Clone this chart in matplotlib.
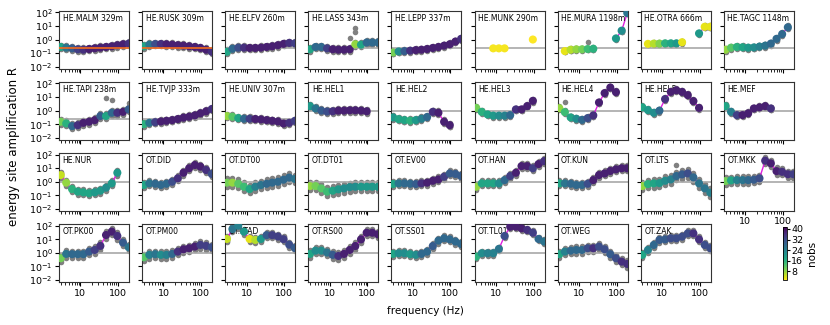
import numpy as np
import matplotlib
matplotlib.use("Agg")
import matplotlib.pyplot as plt
from matplotlib.colors import Normalize
from matplotlib.ticker import NullLocator, FixedLocator, NullFormatter

N = np.nan

freq = [3, 4.2, 6, 8.5, 12, 17, 24, 34, 48, 68, 96, 136, 192]

names = ["HE.MALM 329m", "HE.RUSK 309m", "HE.ELFV 260m", "HE.LASS 343m", "HE.LEPP 337m",
         "HE.MUNK 290m", "HE.MURA 1198m", "HE.OTRA 666m", "HE.TAGC 1148m",
         "HE.TAPI 238m", "HE.TVJP 333m", "HE.UNIV 307m", "HE.HEL1", "HE.HEL2", "HE.HEL3",
         "HE.HEL4", "HE.HEL5", "HE.MEF",
         "HE.NUR", "OT.DID", "OT.DT00", "OT.DT01", "OT.EV00", "OT.HAN", "OT.KUN", "OT.LTS", "OT.MKK",
         "OT.PK00", "OT.PM00", "OT.LTAD", "OT.RS00", "OT.SS01", "OT.TL01", "OT.WEG", "OT.ZAK"]

# reference level (grey line) per station
ref_level = [0.25] * 12 + [1.0] * 23
# stations with the orange constraint line
constrained = ["HE.MALM 329m", "HE.RUSK 309m"]

# log10 of mean amplification per frequency
log_r = [
    [-0.55, -0.6, -0.65, -0.72, -0.75, -0.7, -0.65, -0.6, -0.55, -0.5, -0.42, -0.35, -0.3],
    [-0.5, -0.38, -0.33, -0.33, -0.35, -0.38, -0.42, -0.45, -0.5, -0.55, -0.62, -0.75, -0.9],
    [-0.9, -0.68, -0.6, -0.6, -0.62, -0.62, -0.6, -0.55, -0.5, -0.42, -0.32, -0.25, -0.28],
    [-0.72, -0.55, -0.55, -0.65, -0.72, -0.75, -0.75, -0.72, -0.35, -0.38, -0.22, -0.22, -0.22],
    [-0.95, -0.88, -0.85, -0.82, -0.78, -0.75, -0.7, -0.62, -0.55, -0.45, -0.35, -0.15, 0.05],
    [N, N, N, -0.65, -0.65, -0.65, N, N, N, N, 0.0, N, N],
    [N, -0.85, -0.75, -0.72, -0.72, -0.7, -0.68, N, N, N, 0.08, 0.65, 1.95],
    [N, -0.32, -0.3, -0.3, -0.28, -0.28, -0.28, -0.2, N, N, 0.45, 0.94, 0.94],
    [-0.75, -0.6, -0.55, -0.57, -0.6, -0.58, -0.52, -0.45, -0.3, 0.05, 0.4, 0.9, N],
    [-0.82, -0.94, -1.14, -1.07, -0.9, -0.82, -0.7, -0.4, -0.4, -0.16, -0.16, -0.09, 0.09],
    [-1.0, -0.9, -0.85, -0.8, -0.75, -0.7, -0.62, -0.52, -0.45, -0.35, -0.2, -0.05, 0.12],
    [-0.4, -0.45, -0.55, -0.6, -0.6, -0.62, -0.65, -0.7, -0.75, -0.8, -0.95, -0.9, -0.75],
    [0.33, 0.16, 0.0, -0.07, -0.05, 0.0, 0.0, 0.02, 0.02, 0.0, -0.05, N, N],
    [-0.5, -0.63, -0.7, -0.74, -0.7, -0.6, -0.47, -0.09, -0.16, -0.82, -1.07, N, N],
    [0.2, -0.09, -0.28, -0.37, -0.37, -0.37, -0.33, 0.09, 0.09, 0.33, 0.72, N, N],
    [0.18, -0.11, -0.5, -0.6, -0.68, -0.55, -0.35, 0.6, 1.29, 1.7, 1.36, N, N],
    [0.24, 0.04, -0.16, 0.0, 0.85, 1.38, 1.5, 1.38, 1.14, 0.7, 0.2, N, N],
    [0.33, -0.09, -0.33, -0.33, -0.2, 0.16, 0.24, 0.33, 0.16, N, N, N, N],
    [0.49, -0.07, -0.54, -0.73, -0.78, -0.85, -0.78, -0.66, -0.44, -0.12, 0.66, N, N],
    [-0.24, -0.12, -0.15, -0.24, -0.15, 0.0, 0.25, 0.66, 0.99, 1.23, 1.11, 0.86, 0.57],
    [-0.07, -0.07, -0.15, -0.37, -0.54, -0.37, -0.24, -0.15, -0.07, 0.0, 0.15, 0.3, 0.2],
    [-0.32, -0.32, -0.49, -0.73, -0.66, -0.56, -0.49, -0.4, -0.37, -0.37, -0.37, -0.37, -0.37],
    [-0.17, -0.12, -0.12, -0.15, -0.17, -0.12, -0.07, 0.07, 0.17, 0.37, 0.61, 0.57, 0.42],
    [-0.37, -0.12, -0.12, -0.12, -0.12, 0.12, 0.42, 0.66, 1.15, 1.15, 0.99, 1.3, 1.52],
    [-0.12, -0.12, -0.15, -0.24, -0.24, -0.15, 0.12, 0.49, 0.61, 0.79, 0.91, 0.99, 0.99],
    [-0.32, -0.17, -0.12, -0.1, 0.07, 0.17, 0.42, 0.54, 0.61, 0.32, -0.12, -0.49, -0.81],
    [0.05, 0.1, 0.12, 0.12, 0.12, 0.15, 0.25, 1.55, 1.35, 0.78, 0.73, 0.55, 0.55],
    [-0.4, -0.08, -0.1, -0.1, -0.1, 0.09, 0.21, 0.51, 1.31, 1.56, 1.24, 0.75, 0.41],
    [-0.33, -0.15, -0.1, -0.15, -0.15, -0.08, 0.09, 0.26, 0.34, 0.46, 0.58, 0.51, 0.41],
    [1.02, 1.75, 2.0, 1.56, 1.02, 0.95, 1.02, 1.3, 1.3, 1.2, 1.0, 0.6, 0.35],
    [-0.08, 0.16, 0.16, 0.02, -0.15, -0.23, -0.08, 0.21, 0.5, 0.99, 1.48, 1.48, 1.36],
    [-0.08, -0.03, -0.03, -0.1, -0.15, -0.08, 0.09, 0.5, 0.9, 1.07, 0.99, 0.83, 0.65],
    [-0.28, -0.03, -0.03, -0.03, 0.29, 1.24, 1.92, 1.92, 1.8, 1.68, 1.48, 1.02, 0.83],
    [-0.1, 0.09, 0.16, 0.21, 0.21, 0.34, 0.34, 0.46, 0.26, -0.1, -0.4, -0.65, -0.82],
    [-0.15, 0.21, 0.58, 0.95, 0.99, 1.07, 1.07, 1.19, 1.43, 1.43, 0.99, 0.58, 0.34],
]

# number of observations per frequency
nobs = [
    [18, 26, 30, 34, 36, 38, 38, 38, 38, 38, 38, 38, 36],
    [18, 26, 32, 36, 38, 38, 38, 38, 38, 38, 38, 38, 36],
    [18, 28, 32, 36, 38, 38, 38, 38, 38, 38, 38, 36, 34],
    [18, 28, 28, 34, 38, 38, 38, 38, 8, 18, 28, 28, 28],
    [10, 22, 30, 36, 38, 38, 38, 38, 38, 38, 38, 38, 36],
    [N, N, N, 2, 2, 2, N, N, N, N, 1, N, N],
    [N, 3, 6, 8, 10, 14, 16, N, N, N, 20, 22, 26],
    [N, 3, 6, 9, 16, 18, 20, 3, N, N, 20, 3, 3],
    [8, 12, 16, 18, 20, 22, 24, 26, 28, 28, 28, 28, N],
    [10, 16, 28, 36, 38, 38, 38, 30, 18, 28, 36, 38, 30],
    [16, 26, 34, 38, 38, 38, 38, 38, 38, 38, 38, 38, 36],
    [8, 12, 18, 28, 34, 38, 38, 38, 38, 38, 38, 36, 34],
    [20, 26, 30, 32, 36, 38, 38, 38, 38, 38, 38, N, N],
    [20, 18, 18, 16, 20, 24, 28, 36, 38, 38, 38, N, N],
    [10, 16, 18, 20, 22, 24, 28, 36, 38, 38, 38, N, N],
    [8, 14, 18, 22, 28, 32, 36, 38, 38, 38, 38, N, N],
    [18, 20, 22, 28, 36, 38, 38, 38, 38, 38, 38, N, N],
    [18, 24, 34, 38, 38, 38, 38, 38, 36, N, N, N, N],
    [5, 8, 16, 18, 18, 18, 20, 20, 22, 20, 20, N, N],
    [18, 26, 28, 28, 28, 32, 36, 38, 38, 38, 38, 36, 32],
    [10, 8, 12, 14, 18, 24, 26, 28, 28, 28, 28, 28, 26],
    [8, 10, 12, 14, 18, 20, 22, 22, 22, 20, 20, 20, 20],
    [18, 26, 28, 28, 30, 36, 38, 38, 38, 34, 30, 30, 30],
    [8, 18, 18, 18, 22, 28, 34, 38, 38, 38, 34, 38, 36],
    [18, 26, 28, 28, 28, 32, 38, 38, 38, 38, 38, 38, 38],
    [8, 16, 18, 20, 22, 24, 28, 30, 32, 28, 26, 26, 24],
    [10, 18, 24, 26, 28, 30, 32, 36, 38, 38, 36, 36, 34],
    [10, 26, 28, 28, 28, 30, 34, 36, 38, 38, 36, 30, 26],
    [12, 24, 26, 22, 24, 28, 36, 38, 38, 38, 34, 34, 32],
    [5, 26, 24, 20, 3, 6, 20, 30, 34, 34, 34, 32, 30],
    [18, 22, 22, 26, 30, 36, 38, 38, 38, 38, 38, 38, 38],
    [18, 22, 22, 20, 22, 28, 28, 30, 28, 28, 28, 28, 28],
    [16, 22, 24, 24, 26, 32, 38, 38, 38, 36, 34, 28, 26],
    [18, 24, 28, 28, 28, 32, 36, 32, 32, 30, 32, 36, 36],
    [18, 24, 28, 30, 30, 32, 32, 32, 32, 36, 36, 32, 32],
]

# half-width (log10) of the grey single-observation scatter, per station
spread = [0.17, 0.17, 0.17, 0.17, 0.14, 0.0, 0.1, 0.1, 0.14,
          0.22, 0.17, 0.17, 0.17, 0.17, 0.14, 0.14, 0.14, 0.14,
          0.22, 0.22, 0.32, 0.32, 0.22, 0.22, 0.22, 0.32, 0.27,
          0.27, 0.27, 0.22, 0.27, 0.22, 0.17, 0.27, 0.22]

# isolated grey outliers: (station, frequency, log10 R)
outliers = [("HE.LASS 343m", 48, 0.85), ("HE.LASS 343m", 48, 0.55), ("HE.LASS 343m", 34, 0.1),
            ("HE.TAPI 238m", 48, 0.9), ("HE.TAPI 238m", 68, 0.77), ("HE.TAPI 238m", 192, 0.53),
            ("HE.HEL4", 4.2, 0.62), ("OT.LTS", 24, 1.23), ("HE.MURA 1198m", 17, -0.2)]

cbar_ticks = [8, 16, 24, 32, 40]

W, H = 830, 325
fig = plt.figure(figsize=(W / 100, H / 100), dpi=100)
cmap = plt.get_cmap("viridis_r")
norm = Normalize(vmin=1.5, vmax=41.5)

pw, ph = 70, 58
col_x = [59 + 83.1 * c for c in range(9)]
row_y = [11 + 71.1 * r for r in range(4)]
f_arr = np.array(freq, dtype=float)
offs = np.array([-1.0, -0.6, -0.2, 0.2, 0.6, 1.0])

for i, name in enumerate(names):
    r, c = divmod(i, 9)
    ax = fig.add_axes([col_x[c] / W, 1 - (row_y[r] + ph) / H, pw / W, ph / H])
    ax.set_xscale("log")
    ax.set_yscale("log")
    lr = np.array(log_r[i], dtype=float)
    nb = np.array(nobs[i], dtype=float)
    ok = ~np.isnan(lr)
    # grey individual observations
    s = spread[i]
    if s > 0:
        gx = np.repeat(f_arr[ok], len(offs))
        gy = (lr[ok][:, None] + offs[None, :] * s).ravel()
        ax.scatter(gx, 10 ** gy, s=16, color="#808080", lw=0, zorder=1)
    for (st, fo, vo) in outliers:
        if st == name:
            ax.scatter([fo], [10 ** vo], s=16, color="#808080", lw=0, zorder=1)
    ax.axhline(ref_level[i], color="#a8a8a8", lw=1.2, zorder=2)
    ax.plot(f_arr, 10 ** lr, color="#e020e0", lw=1.0, zorder=3)
    ax.text(0.05, 0.95, name, transform=ax.transAxes, ha="left", va="top", fontsize=5.5,
            clip_on=True, zorder=3.5)
    ax.scatter(f_arr[ok], 10 ** lr[ok], c=nb[ok], cmap=cmap, norm=norm, s=34, lw=0, zorder=4)
    if name in constrained:
        ax.axhline(ref_level[i], color="#f26b1d", lw=1.2, zorder=5)
    ax.set_xlim(2.7, 196)
    ax.set_ylim(10 ** -2.17, 10 ** 2.1)
    ax.yaxis.set_major_locator(FixedLocator([1e-2, 1e-1, 1, 1e1, 1e2]))
    ax.yaxis.set_minor_locator(NullLocator())
    ax.xaxis.set_major_locator(FixedLocator([10, 100]))
    ax.tick_params(axis="both", which="major", length=3, width=0.8, labelsize=6.8, pad=1.5)
    ax.tick_params(axis="x", which="minor", length=1.8, width=0.6)
    for sp in ax.spines.values():
        sp.set_linewidth(0.8)
        sp.set_color("#333333")
    if c != 0:
        ax.set_yticklabels([])
    bottom = (r == 3) or (r == 2 and c == 8)
    if bottom:
        ax.set_xticklabels(["10", "100"])
    else:
        ax.set_xticklabels([])
    ax.xaxis.set_minor_formatter(NullFormatter())

# colorbar
cax = fig.add_axes([783 / W, 1 - 280 / H, 4 / W, 53 / H])
sm = matplotlib.cm.ScalarMappable(norm=norm, cmap=cmap)
cb = fig.colorbar(sm, cax=cax, ticks=cbar_ticks)
cb.ax.tick_params(labelsize=6.8, length=2, pad=1)
cb.outline.set_linewidth(0.6)
cb.set_label("nobs", fontsize=7.5, labelpad=3)

fig.text(14 / W, 1 - 147 / H, "energy site amplification R", rotation=90, ha="center",
         va="center", fontsize=8.5)
fig.text(425 / W, 1 - 311 / H, "frequency (Hz)", ha="center", va="center", fontsize=7.5)

fig.savefig("out.png", dpi=100)
